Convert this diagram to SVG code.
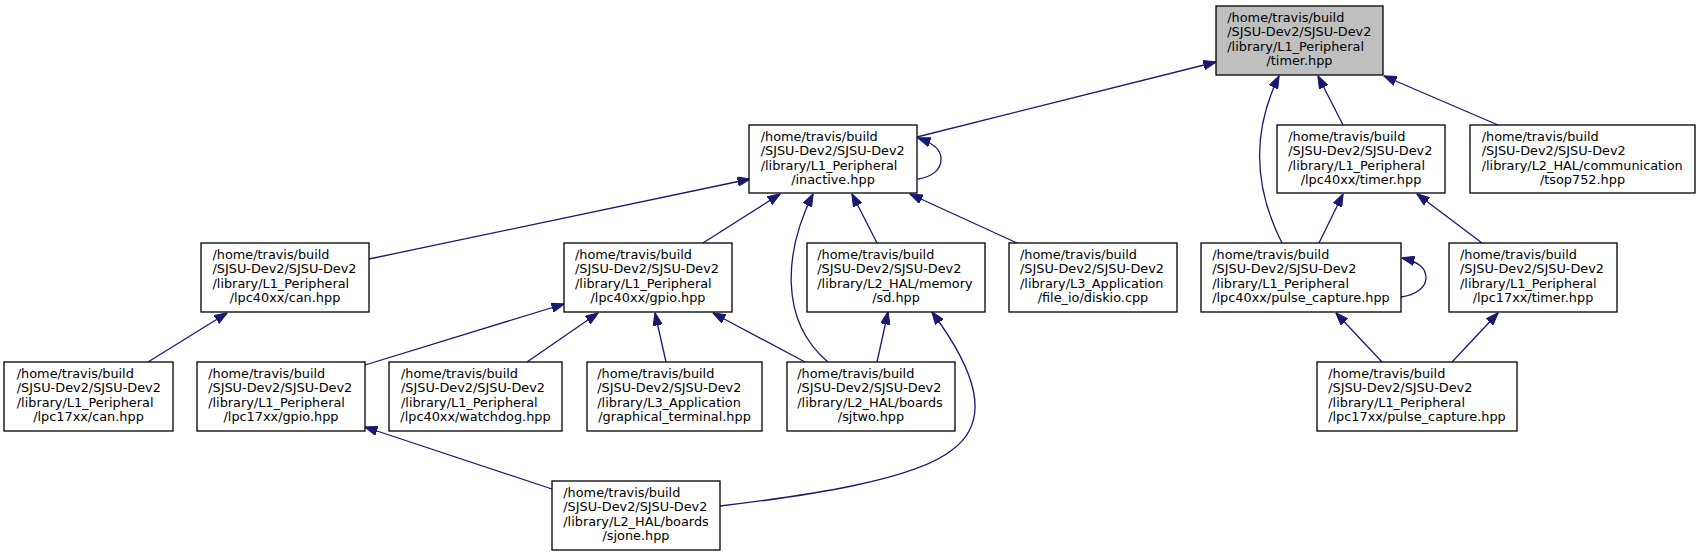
<svg xmlns="http://www.w3.org/2000/svg" width="1701" height="556" viewBox="0 0 1701 556">
<style>
.n rect{fill:#fff;stroke:#000;stroke-width:1.3}
#timer rect{fill:#bfbfbf}
text{font-family:"DejaVu Sans",sans-serif;font-size:12.85px;fill:#000}
.c{text-anchor:middle}
#edges path{fill:none;stroke:#191970;stroke-width:1.3;marker-end:url(#ah)}
</style>
<defs>
<marker id="ah" viewBox="0 0 13 10" refX="12.5" refY="5" markerWidth="13" markerHeight="10" markerUnits="userSpaceOnUse" orient="auto">
<path d="M0,0.3 L13,5 L0,9.7 z" fill="#191970" stroke="#191970" stroke-width="1"/>
</marker>
</defs>
<rect width="1701" height="556" fill="#fff"/>
<g id="edges">
<path d="M917,137 L1216,62"/>
<path d="M918,179 C932,177 941,170 941,159 C941,150 935,144 918,138"/>
<path d="M1343,125 L1318,76"/>
<path d="M1498,125 L1384,76"/>
<path d="M1282,243 C1255,190 1250,135 1279,76"/>
<path d="M369,259 L750,179"/>
<path d="M703,243 L780,194"/>
<path d="M828,362 C778,320 785,250 813,194"/>
<path d="M877,243 L852,194"/>
<path d="M1017,243 L910,194"/>
<path d="M1319,243 L1343,194"/>
<path d="M1482,243 L1417,194"/>
<path d="M1401,297 C1415,295 1426,288 1426,278 C1426,268 1419,262 1402,258"/>
<path d="M1382,362 L1336,313"/>
<path d="M1452,362 L1498,313"/>
<path d="M148,362 L227,313"/>
<path d="M365,365 L564,304"/>
<path d="M527,362 L598,313"/>
<path d="M666,362 L655,313"/>
<path d="M805,362 L713,313"/>
<path d="M877,362 L888,312"/>
<path d="M552,489 L365,427"/>
<path d="M720,506 C805,496 915,480 952,450 C993,420 975,370 932,312"/>
</g>
<g id="timer" class="n"><rect x="1216" y="6" width="167" height="69"/>
<text x="1227.3" y="21.5">/home/travis/build</text><text x="1227.3" y="36.1">/SJSU-Dev2/SJSU-Dev2</text><text x="1227.3" y="50.7">/library/L1_Peripheral</text><text class="c" x="1299.5" y="65.3">/timer.hpp</text></g>
<g id="inactive" class="n"><rect x="749" y="125" width="168" height="68"/>
<text x="760.7" y="140.5">/home/travis/build</text><text x="760.7" y="155.1">/SJSU-Dev2/SJSU-Dev2</text><text x="760.7" y="169.7">/library/L1_Peripheral</text><text class="c" x="833" y="184.3">/inactive.hpp</text></g>
<g id="lpc40timer" class="n"><rect x="1277" y="125" width="168" height="68"/>
<text x="1288.3" y="140.5">/home/travis/build</text><text x="1288.3" y="155.1">/SJSU-Dev2/SJSU-Dev2</text><text x="1288.3" y="169.7">/library/L1_Peripheral</text><text class="c" x="1361" y="184.3">/lpc40xx/timer.hpp</text></g>
<g id="tsop752" class="n"><rect x="1470" y="125" width="225" height="68"/>
<text x="1481.7" y="140.5">/home/travis/build</text><text x="1481.7" y="155.1">/SJSU-Dev2/SJSU-Dev2</text><text x="1481.7" y="169.7">/library/L2_HAL/communication</text><text class="c" x="1582.5" y="184.3">/tsop752.hpp</text></g>
<g id="lpc40can" class="n"><rect x="201" y="243" width="168" height="69"/>
<text x="212.5" y="258.5">/home/travis/build</text><text x="212.5" y="273.1">/SJSU-Dev2/SJSU-Dev2</text><text x="212.5" y="287.7">/library/L1_Peripheral</text><text class="c" x="285" y="302.3">/lpc40xx/can.hpp</text></g>
<g id="gpio40" class="n"><rect x="564" y="243" width="168" height="69"/>
<text x="575" y="258.5">/home/travis/build</text><text x="575" y="273.1">/SJSU-Dev2/SJSU-Dev2</text><text x="575" y="287.7">/library/L1_Peripheral</text><text class="c" x="648" y="302.3">/lpc40xx/gpio.hpp</text></g>
<g id="sd" class="n"><rect x="807" y="243" width="178" height="69"/>
<text x="817.3" y="258.5">/home/travis/build</text><text x="817.3" y="273.1">/SJSU-Dev2/SJSU-Dev2</text><text x="817.3" y="287.7">/library/L2_HAL/memory</text><text class="c" x="896" y="302.3">/sd.hpp</text></g>
<g id="diskio" class="n"><rect x="1009" y="243" width="168" height="69"/>
<text x="1020" y="258.5">/home/travis/build</text><text x="1020" y="273.1">/SJSU-Dev2/SJSU-Dev2</text><text x="1020" y="287.7">/library/L3_Application</text><text class="c" x="1093" y="302.3">/file_io/diskio.cpp</text></g>
<g id="pulse40" class="n"><rect x="1201" y="243" width="200" height="69"/>
<text x="1212.3" y="258.5">/home/travis/build</text><text x="1212.3" y="273.1">/SJSU-Dev2/SJSU-Dev2</text><text x="1212.3" y="287.7">/library/L1_Peripheral</text><text class="c" x="1301" y="302.3">/lpc40xx/pulse_capture.hpp</text></g>
<g id="lpc17timer" class="n"><rect x="1449" y="243" width="168" height="69"/>
<text x="1460" y="258.5">/home/travis/build</text><text x="1460" y="273.1">/SJSU-Dev2/SJSU-Dev2</text><text x="1460" y="287.7">/library/L1_Peripheral</text><text class="c" x="1533" y="302.3">/lpc17xx/timer.hpp</text></g>
<g id="lpc17can" class="n"><rect x="4" y="362" width="169" height="69"/>
<text x="16.8" y="377.5">/home/travis/build</text><text x="16.8" y="392.1">/SJSU-Dev2/SJSU-Dev2</text><text x="16.8" y="406.7">/library/L1_Peripheral</text><text class="c" x="88.5" y="421.3">/lpc17xx/can.hpp</text></g>
<g id="lpc17gpio" class="n"><rect x="197" y="362" width="168" height="69"/>
<text x="208.2" y="377.5">/home/travis/build</text><text x="208.2" y="392.1">/SJSU-Dev2/SJSU-Dev2</text><text x="208.2" y="406.7">/library/L1_Peripheral</text><text class="c" x="281" y="421.3">/lpc17xx/gpio.hpp</text></g>
<g id="watchdog" class="n"><rect x="389" y="362" width="173" height="69"/>
<text x="401" y="377.5">/home/travis/build</text><text x="401" y="392.1">/SJSU-Dev2/SJSU-Dev2</text><text x="401" y="406.7">/library/L1_Peripheral</text><text class="c" x="475.5" y="421.3">/lpc40xx/watchdog.hpp</text></g>
<g id="graphical" class="n"><rect x="587" y="362" width="175" height="69"/>
<text x="597.3" y="377.5">/home/travis/build</text><text x="597.3" y="392.1">/SJSU-Dev2/SJSU-Dev2</text><text x="597.3" y="406.7">/library/L3_Application</text><text class="c" x="674.5" y="421.3">/graphical_terminal.hpp</text></g>
<g id="sjtwo" class="n"><rect x="787" y="362" width="168" height="69"/>
<text x="797.3" y="377.5">/home/travis/build</text><text x="797.3" y="392.1">/SJSU-Dev2/SJSU-Dev2</text><text x="797.3" y="406.7">/library/L2_HAL/boards</text><text class="c" x="871" y="421.3">/sjtwo.hpp</text></g>
<g id="lpc17pulse" class="n"><rect x="1317" y="362" width="200" height="69"/>
<text x="1328.3" y="377.5">/home/travis/build</text><text x="1328.3" y="392.1">/SJSU-Dev2/SJSU-Dev2</text><text x="1328.3" y="406.7">/library/L1_Peripheral</text><text class="c" x="1417" y="421.3">/lpc17xx/pulse_capture.hpp</text></g>
<g id="sjone" class="n"><rect x="552" y="481" width="168" height="69"/>
<text x="563.3" y="496.5">/home/travis/build</text><text x="563.3" y="511.1">/SJSU-Dev2/SJSU-Dev2</text><text x="563.3" y="525.7">/library/L2_HAL/boards</text><text class="c" x="636" y="540.3">/sjone.hpp</text></g>
</svg>
